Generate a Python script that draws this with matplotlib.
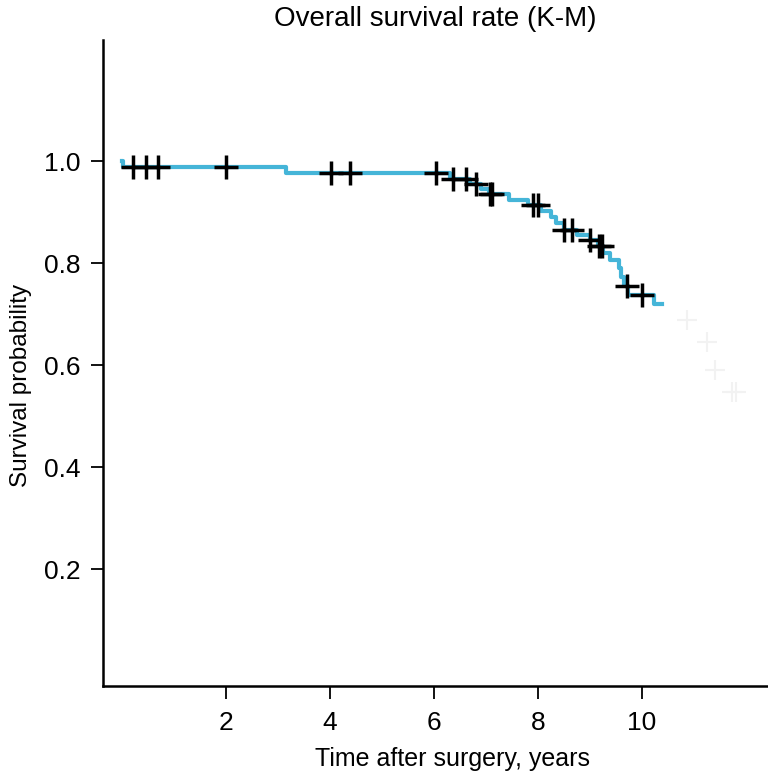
import numpy as np
import matplotlib.pyplot as plt

plt.rcParams['font.family'] = ['Liberation Sans', 'DejaVu Sans']

# step times and survival after each drop
step_t = [0.0, 0.02, 3.15, 6.3, 6.7, 6.9, 7.05, 7.45, 7.8, 8.05, 8.25, 8.35, 8.5,
          8.75, 9.0, 9.15, 9.25, 9.38, 9.55, 9.6, 9.66, 9.72, 10.23, 10.38]
step_s = [1.0, 0.989, 0.977, 0.966, 0.955, 0.945, 0.935, 0.924, 0.914, 0.902, 0.890,
          0.878, 0.866, 0.855, 0.845, 0.833, 0.820, 0.806, 0.790, 0.772, 0.755,
          0.737, 0.721, 0.721]

# censored times
cens_t = [0.21, 0.46, 0.69, 2.0, 4.02, 4.38, 6.04, 6.37, 6.62, 6.8, 7.08, 7.12,
          7.9, 8.0, 8.5, 8.65, 9.0, 9.18, 9.22, 9.7, 10.0]

# faint marks beyond the curve
faint_t = [10.87, 11.25, 11.4, 11.72, 11.8]
faint_s = [0.688, 0.645, 0.59, 0.547, 0.547]

fig = plt.figure(figsize=(7.68, 7.76), dpi=100)
ax = fig.add_axes([0.134, 0.116, 0.866, 0.832])

ax.step(step_t, step_s, where='post', color='#45b5d8', lw=3, zorder=2)
idx = np.searchsorted(step_t, cens_t, side='right') - 1
cens_s = np.array(step_s)[idx]
ax.plot(cens_t, cens_s, ls='none', marker='+', ms=17, mew=2.5, color='black', zorder=3)
ax.plot(faint_t, faint_s, ls='none', marker='+', ms=15, mew=1.5, color='#f2f2f2', zorder=1)

ax.set_xlim(-0.365, 12.42)
ax.set_ylim(-0.029, 1.237)
ax.set_xticks([2, 4, 6, 8, 10])
ax.set_yticks([0.2, 0.4, 0.6, 0.8, 1.0])
ax.set_yticklabels(['0.2', '0.4', '0.6', '0.8', '1.0'])
ax.tick_params(labelsize=19, length=9, width=1.3)
ax.tick_params(axis='x', pad=9)
ax.tick_params(axis='y', pad=7)
for s in ['top', 'right']:
    ax.spines[s].set_visible(False)
for s in ['left', 'bottom']:
    ax.spines[s].set_linewidth(1.8)

ax.set_title('Overall survival rate (K-M)', fontsize=20, pad=10)
ax.set_xlabel('Time after surgery, years', fontsize=18)
ax.set_ylabel('Survival probability', fontsize=17.5)
ax.xaxis.set_label_coords(0.526, -0.095)
ax.yaxis.set_label_coords(-0.107, 0.466)

fig.savefig('out.png', dpi=100)
